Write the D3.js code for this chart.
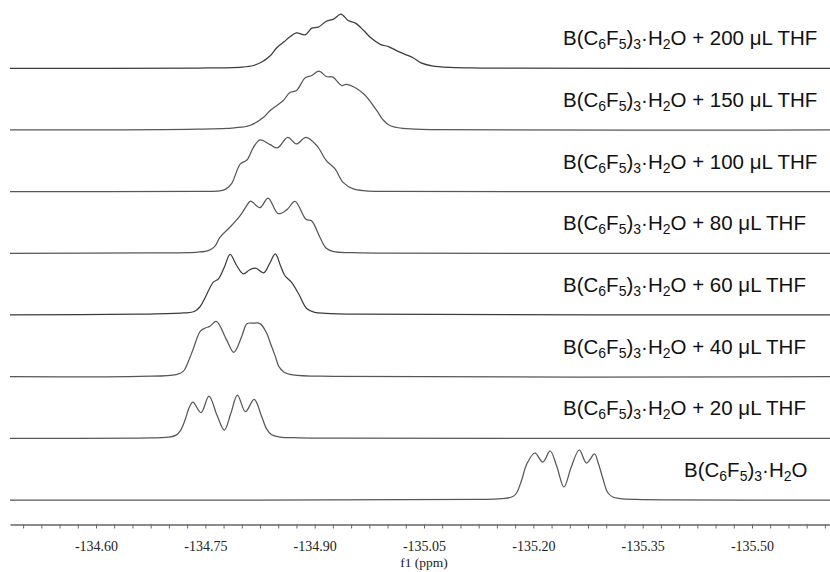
<!DOCTYPE html>
<html>
<head>
<meta charset="utf-8">
<script src="https://cdn.jsdelivr.net/npm/d3@7"></script>
<style>
  html, body { margin: 0; padding: 0; background: #fff; }
  svg { display: block; }
</style>
</head>
<body>
<script>
// 19F NMR, ortho-F region of B(C6F5)3·H2O titrated with THF (stacked traces)

// chemical shift window (ppm), left to right
const ppmDomain = [-134.482, -135.607];
const tickStep = 0.025;
const tickFirst = -134.50;
const tickLast = -135.60;
const tickLabels = [-134.60, -134.75, -134.90, -135.05, -135.20, -135.35, -135.50];
const axisTitle = "f1 (ppm)";

// formula pieces: [text, isSubscript]
const formulaParts = [["B(C", 0], ["6", 1], ["F", 0], ["5", 1], [")", 0], ["3", 1], ["·H", 0], ["2", 1], ["O", 0]];
// THF added (µL), bottom trace first
const thfAdded = [0, 20, 40, 60, 80, 100, 150, 200];

// traces as [ppm, intensity]
const specH2O = [[-135.127,0.6],[-135.161,1.6],[-135.172,3.5],[-135.177,7],[-135.184,20],[-135.191,36],[-135.202,47],[-135.213,38],[-135.223,49],[-135.232,34],[-135.242,13],[-135.252,33],[-135.263,50],[-135.273,37],[-135.284,46],[-135.289,37],[-135.296,20],[-135.302,7.5],[-135.309,3],[-135.319,1.4],[-135.340,0.6]];
const spec20 = [[-134.660,0.3],[-134.700,1.2],[-134.710,3.2],[-134.716,8],[-134.722,18],[-134.728,31],[-134.733,36.3],[-134.744,25.7],[-134.755,42.3],[-134.766,23],[-134.776,8.3],[-134.785,25],[-134.794,43.3],[-134.805,26.7],[-134.817,39],[-134.827,22.3],[-134.834,9.5],[-134.841,3.5],[-134.852,1.3],[-134.880,0.5],[-134.930,0.2]];
const spec40 = [[-134.660,0.3],[-134.710,2],[-134.720,5.5],[-134.726,14],[-134.733,27],[-134.743,45.3],[-134.750,48.7],[-134.756,50.3],[-134.765,55.3],[-134.779,37],[-134.789,24.3],[-134.800,40.3],[-134.807,53],[-134.815,53.5],[-134.825,53],[-134.834,43.7],[-134.840,32],[-134.846,20.3],[-134.851,10],[-134.858,4.5],[-134.870,1.8],[-134.930,0.3]];
const spec60 = [[-134.660,0.8],[-134.720,2],[-134.735,3.5],[-134.743,8.5],[-134.750,17.8],[-134.761,32.8],[-134.768,36.2],[-134.776,47.8],[-134.784,60.5],[-134.793,49.5],[-134.802,41.2],[-134.811,45.2],[-134.819,46.8],[-134.830,42.2],[-134.838,51.2],[-134.846,61.2],[-134.853,49.5],[-134.859,39.5],[-134.868,32.8],[-134.878,21.2],[-134.889,6.5],[-134.900,2.6],[-134.915,1.6],[-134.960,0.8]];
const spec80 = [[-134.674,0.4],[-134.740,1.2],[-134.755,3],[-134.763,7],[-134.770,16],[-134.784,26.3],[-134.798,38],[-134.807,48],[-134.812,52.3],[-134.825,45.7],[-134.836,55.3],[-134.850,39.7],[-134.862,43.7],[-134.873,52],[-134.888,34],[-134.896,32.3],[-134.907,16.3],[-134.916,5],[-134.926,1.6],[-134.950,0.6],[-135.000,0.2]];
const spec100 = [[-134.740,0.3],[-134.770,0.8],[-134.778,2.5],[-134.786,8],[-134.798,27.7],[-134.807,31.7],[-134.816,44.3],[-134.825,51.7],[-134.839,47],[-134.849,43.7],[-134.863,54.3],[-134.875,47.7],[-134.888,54.3],[-134.903,46],[-134.916,31],[-134.928,22.7],[-134.939,9.3],[-134.953,2.7],[-134.970,0.8],[-135.000,0.3]];
const spec150 = [[-134.740,0.8],[-134.790,2.2],[-134.811,4.5],[-134.830,12.8],[-134.839,19.5],[-134.857,29.5],[-134.866,37.5],[-134.875,39.5],[-134.887,52.2],[-134.896,54.5],[-134.906,58.8],[-134.916,53.5],[-134.925,52.8],[-134.937,44.5],[-134.944,45.5],[-134.967,36.2],[-134.985,19.5],[-134.994,10],[-135.003,4.5],[-135.021,1.5],[-135.058,0.4]];
const spec200 = [[-134.740,0.2],[-134.800,1.2],[-134.816,2.8],[-134.828,6.5],[-134.839,12.5],[-134.848,20.5],[-134.858,26.5],[-134.866,31.5],[-134.875,35.5],[-134.887,33.5],[-134.896,40.2],[-134.905,41.2],[-134.916,47],[-134.926,49.2],[-134.936,54.2],[-134.946,47.8],[-134.956,45.2],[-134.967,38],[-134.977,30.5],[-134.990,24],[-135.002,21.5],[-135.013,17.5],[-135.024,14],[-135.035,10.5],[-135.046,5.5],[-135.061,2.5],[-135.086,0.9],[-135.127,0.3]];

const traces = [specH2O, spec20, spec40, spec60, spec80, spec100, spec150, spec200];

// ---- layout ----
const W = 830, H = 572;
const plotLeft = 10, plotRight = 830;
const bottomBaseline = 500;
const traceGap = 61.67;
const axisY = 524.5;

const svg = d3.select("body").append("svg")
  .attr("width", W).attr("height", H)
  .attr("viewBox", `0 0 ${W} ${H}`);

const x = d3.scaleLinear().domain(ppmDomain).range([plotLeft, plotRight]);
const y = d3.scaleLinear().domain([0, bottomBaseline]).range([bottomBaseline, 0]);

const line = d3.line()
  .x(d => x(d[0]))
  .y(d => y(d[1]))
  .curve(d3.curveCatmullRom.alpha(0.5));

// stacked traces, each lifted by a fixed offset
const traceG = svg.append("g").attr("fill", "none");
traces.forEach((spec, i) => {
  const offset = i * traceGap;
  const pts = [[ppmDomain[0], 0], ...spec, [ppmDomain[1], 0]]
    .map(d => [d[0], d[1] + offset]);
  traceG.append("path")
    .attr("d", line(pts))
    .attr("stroke", i === 7 || i === 3 ? "#3c3c3c" : "#575757")
    .attr("stroke-width", 1.25)
    .attr("stroke-linejoin", "round");
});

// trace labels with chemical subscripts
const labelG = svg.append("g")
  .attr("font-family", "'Liberation Sans', Arial, Helvetica, sans-serif")
  .attr("font-size", 20.5)
  .attr("fill", "#111");

thfAdded.forEach((amount, i) => {
  const baseY = y(i * traceGap) - 23;
  const t = labelG.append("text")
    .attr("x", amount ? 563 : 684)
    .attr("y", baseY);
  let lowered = false;
  formulaParts.forEach(([s, sub]) => {
    const ts = t.append("tspan").text(s);
    if (sub) {
      ts.attr("font-size", 14);
      if (!lowered) { ts.attr("dy", 4); lowered = true; }
    } else if (lowered) {
      ts.attr("dy", -4); lowered = false;
    }
  });
  if (amount) t.append("tspan").text(` + ${amount} \u03BCL THF`);
});

// shift axis
const tickVals = d3.range(0, Math.round((tickFirst - tickLast) / tickStep) + 1)
  .map(k => +(tickFirst - k * tickStep).toFixed(3));
const isLabelled = v => tickLabels.some(t => Math.abs(t - v) < 1e-6);

const axis = d3.axisBottom(x)
  .tickValues(tickVals)
  .tickSize(4)
  .tickSizeOuter(0)
  .tickPadding(12.5)
  .tickFormat(v => isLabelled(v) ? v.toFixed(2) : "");

const axisG = svg.append("g")
  .attr("transform", `translate(0,${axisY})`)
  .call(axis);
axisG.select(".domain").attr("stroke", "#666").attr("stroke-width", 1.5);
axisG.selectAll(".tick line").attr("stroke", "#666").attr("stroke-width", 1);
axisG.selectAll(".tick text")
  .attr("font-family", "'Liberation Serif', 'Times New Roman', serif")
  .attr("font-size", 14)
  .attr("fill", "#222");

svg.append("text")
  .attr("x", x(-135.05))
  .attr("y", 567)
  .attr("text-anchor", "middle")
  .attr("font-family", "'Liberation Serif', 'Times New Roman', serif")
  .attr("font-size", 13.5)
  .attr("fill", "#222")
  .text(axisTitle);
</script>
</body>
</html>
